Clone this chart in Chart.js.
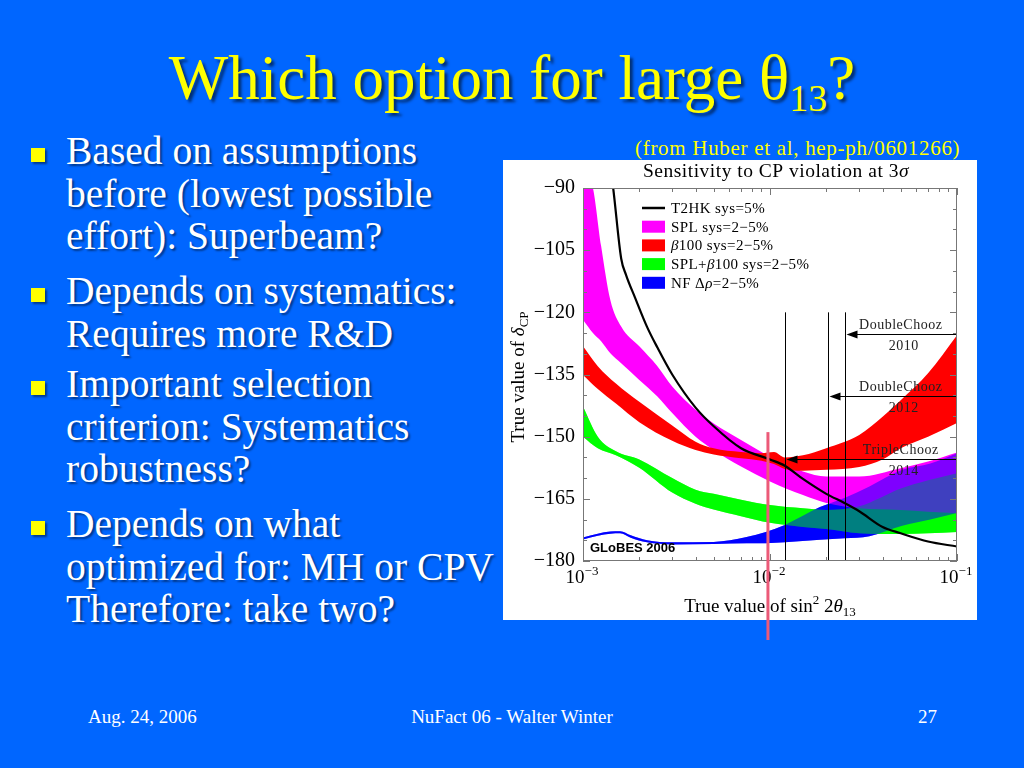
<!DOCTYPE html>
<html lang="en">
<head>
<meta charset="UTF-8" />
<title>Which option for large θ13?</title>
<script src="https://cdn.jsdelivr.net/npm/chart.js"></script>
<style>
  body {
    margin: 0;
    width: 1024px;
    height: 768px;
    overflow: hidden;
    position: relative;
    background: #0066ff;
    font-family: 'Liberation Serif', 'Times New Roman', serif;
  }
  h1 {
    position: absolute;
    left: 0;
    top: 47px;
    width: 1024px;
    margin: 0;
    text-align: center;
    font-weight: normal;
    font-size: 63px;
    line-height: 63px;
    color: #ffff00;
    text-shadow: 3px 3px 3px rgba(0, 0, 0, 0.55);
  }
  h1 .sub { font-size: 38px; vertical-align: -12px; }
  .item {
    position: absolute;
    left: 66px;
    font-size: 39.5px;
    line-height: 42.5px;
    color: #fff;
    white-space: nowrap;
    text-shadow: 2px 2px 2px rgba(0, 0, 0, 0.45);
  }
  .item::before {
    content: '';
    position: absolute;
    left: -35px;
    top: 18px;
    width: 14px;
    height: 14px;
    background: #ffff00;
    box-shadow: 2px 2px 2px rgba(0, 0, 0, 0.45);
  }
  .source {
    position: absolute;
    left: 635px;
    top: 136px;
    font-size: 21px;
    letter-spacing: 0.7px;
    color: #ffff00;
    white-space: nowrap;
  }
  .foot {
    position: absolute;
    top: 706px;
    font-size: 19px;
    color: #fff;
    white-space: nowrap;
  }
  #wrap {
    position: absolute;
    left: 503px;
    top: 160px;
  }
</style>
</head>
<body>
  <h1>Which option for large θ<span class="sub">13</span>?</h1>

  <div class="item" style="top:130px">Based on assumptions<br>before (lowest possible<br>effort): Superbeam?</div>
  <div class="item" style="top:270px">Depends on systematics:<br>Requires more R&amp;D</div>
  <div class="item" style="top:363px">Important selection<br>criterion: Systematics<br>robustness?</div>
  <div class="item" style="top:503px">Depends on what<br>optimized for: MH or CPV<br>Therefore: take two?</div>

  <div class="source">(from Huber et al, hep-ph/0601266)</div>

  <div id="wrap"><canvas id="cpv" width="474" height="485"></canvas></div>

  <div class="foot" style="left:88px">Aug. 24, 2006</div>
  <div class="foot" style="left:0;width:1024px;text-align:center">NuFact 06 - Walter Winter</div>
  <div class="foot" style="left:918px">27</div>

<script>
// values: x = sin^2 2theta13, y = delta_CP in degrees
const t2hkX = [0.0014, 0.00145, 0.0016, 0.0017, 0.0019, 0.0022, 0.0025, 0.003, 0.004, 0.005, 0.007, 0.01, 0.012, 0.015, 0.02, 0.025, 0.03, 0.04, 0.05, 0.07, 0.1];
const t2hkY = [-85, -90, -107, -111, -116.5, -123.5, -128.5, -135, -143, -147.5, -152.8, -155.5, -157, -160.2, -163.8, -166, -168, -171.8, -173.3, -175.3, -176.5];

const splX  = [0.001, 0.00113, 0.00125, 0.0014, 0.0016, 0.002, 0.0025, 0.003, 0.004, 0.005, 0.007, 0.01, 0.015, 0.02, 0.03, 0.05, 0.07, 0.1];
const splHi = [-85, -90, -104, -117, -123.4, -128.2, -133, -137.9, -143.5, -146.8, -150.8, -154.8, -158.4, -159.6, -159.6, -157.6, -156, -153.8];
const splLo = [-121.8, -125, -127, -129.9, -132.3, -136.3, -140.3, -144.3, -150, -153.2, -157.2, -160.8, -164.1, -166, -167.3, -167.7, -168.1, -168.5];

const b100X  = [0.001, 0.0012, 0.0015, 0.002, 0.003, 0.004, 0.005, 0.007, 0.009, 0.0105, 0.012, 0.015, 0.02, 0.03, 0.04, 0.05, 0.07, 0.1];
const b100Hi = [-128.2, -133, -137.2, -141.6, -147.3, -151.2, -152.8, -153.7, -154, -153.7, -155, -154.5, -152.8, -149.6, -145.2, -141.2, -134.7, -125.5];
const b100Lo = [-135.1, -138.5, -142, -146.5, -151, -153.2, -154.3, -155.2, -155.8, -156.6, -157.8, -158.2, -158, -157.3, -155.5, -152.8, -150, -146.7];

const comboX  = [0.001, 0.0012, 0.0015, 0.002, 0.003, 0.004, 0.005, 0.007, 0.01, 0.015, 0.02, 0.03, 0.05, 0.07, 0.1];
const comboHi = [-142.7, -150, -153.5, -155.5, -160, -162.8, -163.8, -165.2, -166.5, -167.3, -167.7, -166.8, -162.5, -160.5, -158.8];
const comboLo = [-150, -152.8, -154.5, -157.5, -163.5, -166.2, -167.6, -169.2, -170.8, -171.8, -172.3, -173.3, -173.5, -173.3, -173];

const nfX  = [0.001, 0.0012, 0.0014, 0.00158, 0.0018, 0.0022, 0.003, 0.005, 0.0075, 0.0095, 0.012, 0.0185, 0.025, 0.034, 0.051, 0.072, 0.1];
const nfHi = [-174.3, -173.4, -172.9, -172.8, -173.8, -175, -175.5, -175.4, -174.2, -173, -171.3, -167, -164.8, -162, -158, -156.5, -154];
const nfLo = [-174.8, -173.9, -173.4, -173.3, -174.4, -175.5, -176, -175.9, -175.7, -175.7, -175.5, -174.9, -174.5, -174, -171.5, -170, -168.4];

// reactor experiments: sin^2 2theta13 reach and arrow height
const reactorX = [0.0253, 0.0204, 0.0121];
const reactorY = [-125.3, -140.3, -155.4];
const reactorName = ['DoubleChooz', 'DoubleChooz', 'TripleChooz'];
const reactorYear = ['2010', '2012', '2014'];

const markX = 0.00975;     // red marker line
const markTop = -148.9;

const xTicks = [0.001, 0.01, 0.1];
const xTickExp = ['−3', '−2', '−1'];
const legendLabels = ['T2HK sys=5%', 'SPL sys=2−5%', 'β100 sys=2−5%', 'SPL+β100 sys=2−5%', 'NF Δρ=2−5%'];
const legendColors = ['#000000', '#ff00ff', '#ff0000', '#00ff00', '#0000ff'];

const SERIF = "'Liberation Serif', 'Times New Roman', serif";

function pts(xs, ys) {
  return xs.map((x, i) => ({ x: x, y: ys[i] }));
}

function band(xs, lo, hi, color) {
  return [
    { data: pts(xs, lo), borderColor: 'rgba(0,0,0,0)', borderWidth: 1, fill: false },
    { data: pts(xs, hi), borderColor: 'rgba(0,0,0,0)', borderWidth: 1, fill: '-1', backgroundColor: color }
  ];
}

function richWidth(ctx, parts) {
  let w = 0;
  for (const p of parts) { ctx.font = p.font; w += ctx.measureText(p.t).width; }
  return w;
}

function drawRich(ctx, parts, x, y, align) {
  const w = richWidth(ctx, parts);
  let cx = align === 'center' ? x - w / 2 : align === 'right' ? x - w : x;
  ctx.textAlign = 'left';
  for (const p of parts) {
    ctx.font = p.font;
    ctx.fillText(p.t, cx, y + (p.dy || 0));
    cx += ctx.measureText(p.t).width;
  }
}

// greek letters in italic, like the Mathematica labels
function greekParts(str, size) {
  const parts = [];
  for (const ch of str) {
    const it = 'βρσθδ'.includes(ch);
    parts.push({ t: ch, font: (it ? 'italic ' : '') + size + 'px ' + SERIF });
  }
  return parts;
}

const decor = {
  id: 'decor',
  beforeDraw(chart) {
    const c = chart.ctx;
    c.save();
    c.fillStyle = '#ffffff';
    c.fillRect(0, 0, chart.width, 460);
    c.restore();
  },
  afterDatasetsDraw(chart) {
    const c = chart.ctx, xs = chart.scales.x, ys = chart.scales.y, a = chart.chartArea;
    c.save();

    // reactor limits
    c.strokeStyle = '#000';
    c.fillStyle = '#000';
    c.lineWidth = 1;
    reactorX.forEach((rx, i) => {
      const px = Math.round(xs.getPixelForValue(rx)) + 0.5;
      c.beginPath();
      c.moveTo(px, ys.getPixelForValue(-120));
      c.lineTo(px, a.bottom);
      c.stroke();
      const py = Math.round(ys.getPixelForValue(reactorY[i])) + 0.5;
      c.beginPath();
      c.moveTo(px + 8, py);
      c.lineTo(a.right, py);
      c.stroke();
      c.beginPath();
      c.moveTo(px + 1, py);
      c.lineTo(px + 12, py - 4);
      c.lineTo(px + 12, py + 4);
      c.closePath();
      c.fill();
      const lx = xs.getPixelForValue(0.05);
      c.fillStyle = '#222';
      c.font = '14px ' + SERIF;
      c.letterSpacing = '0.5px';
      c.textAlign = 'center';
      c.fillText(reactorName[i], lx, py - 6);
      c.fillText(reactorYear[i], lx + 3, py + 15);
      c.letterSpacing = '0px';
      c.fillStyle = '#000';
    });

    // frame and inward ticks
    c.strokeStyle = '#777';
    c.lineWidth = 1;
    c.strokeRect(a.left + 0.5, a.top + 0.5, a.right - a.left - 1, a.bottom - a.top - 1);
    c.beginPath();
    for (let v = -180; v <= -90; v += 5) {
      const py = Math.round(ys.getPixelForValue(v)) + 0.5;
      const len = (v % 15 === 0) ? 7 : 4;
      c.moveTo(a.left, py); c.lineTo(a.left + len, py);
      c.moveTo(a.right, py); c.lineTo(a.right - len, py);
    }
    for (let d = 0.001; d < 0.1; d *= 10) {
      for (let k = 1; k <= 10; k++) {
        const px = Math.round(xs.getPixelForValue(d * k)) + 0.5;
        const len = (k === 1 || k === 10) ? 7 : 4;
        c.moveTo(px, a.bottom); c.lineTo(px, a.bottom - len);
        c.moveTo(px, a.top); c.lineTo(px, a.top + len);
      }
    }
    c.stroke();

    // legend
    c.fillStyle = '#000';
    legendLabels.forEach((lab, i) => {
      const y = a.top + 20 + i * 18.7;
      if (i === 0) {
        c.strokeStyle = legendColors[i];
        c.lineWidth = 2.5;
        c.beginPath(); c.moveTo(139, y); c.lineTo(162, y); c.stroke();
      } else {
        c.fillStyle = legendColors[i];
        c.fillRect(139, y - 6, 23, 12);
      }
      c.fillStyle = '#000';
      c.textBaseline = 'middle';
      c.letterSpacing = '0.4px';
      drawRich(c, greekParts(lab, 15), 168, y + 1, 'left');
      c.letterSpacing = '0px';
      c.textBaseline = 'alphabetic';
    });

    c.fillStyle = '#000';
    c.font = 'bold 13px "Liberation Sans", Arial, sans-serif';
    c.textAlign = 'left';
    c.fillText('GLoBES 2006', a.left + 7, a.bottom - 9);

    c.restore();
  },
  afterDraw(chart) {
    const c = chart.ctx, xs = chart.scales.x, ys = chart.scales.y, a = chart.chartArea;
    c.save();
    c.fillStyle = '#000';

    // title
    c.letterSpacing = '0.5px';
    drawRich(c, [
      { t: 'Sensitivity to CP violation at 3', font: '19.5px ' + SERIF },
      { t: 'σ', font: 'italic 19.5px ' + SERIF }
    ], 273, 17, 'center');
    c.letterSpacing = '0px';

    // x tick labels 10^-n
    xTicks.forEach((v, i) => {
      drawRich(c, [
        { t: '10', font: '19px ' + SERIF },
        { t: xTickExp[i], font: '13px ' + SERIF, dy: -8 }
      ], xs.getPixelForValue(v) - 1, 423, 'center');
    });

    // axis titles
    drawRich(c, [
      { t: 'True value of sin', font: '19px ' + SERIF },
      { t: '2', font: '13px ' + SERIF, dy: -8 },
      { t: ' 2', font: '19px ' + SERIF },
      { t: 'θ', font: 'italic 19px ' + SERIF },
      { t: '13', font: '13px ' + SERIF, dy: 4 }
    ], 267, 452, 'center');

    c.save();
    c.translate(21, 217);
    c.rotate(-Math.PI / 2);
    drawRich(c, [
      { t: 'True value of ', font: '19px ' + SERIF },
      { t: 'δ', font: 'italic 19px ' + SERIF },
      { t: 'CP', font: '13px ' + SERIF, dy: 4 }
    ], 0, 0, 'center');
    c.restore();

    // red marker line, runs past the plot box
    const mx = xs.getPixelForValue(markX);
    c.strokeStyle = '#ec5a78';
    c.lineWidth = 3;
    c.beginPath();
    c.moveTo(mx, ys.getPixelForValue(markTop));
    c.lineTo(mx, 480);
    c.stroke();
    c.restore();
  }
};

const datasets = [
  { data: pts(t2hkX, t2hkY), borderColor: '#000', borderWidth: 2.2, fill: false },
  ...band(nfX, nfLo, nfHi, 'rgba(0,0,255,0.5)'),
  ...band(b100X, b100Lo, b100Hi, '#ff0000'),
  ...band(comboX, comboLo, comboHi, 'rgba(0,255,0,0.5)'),
  ...band(splX, splLo, splHi, '#ff00ff'),
  ...band(comboX, comboLo, comboHi, '#00ff00'),
  ...band(nfX, nfLo, nfHi, '#0000ff')
];

new Chart(document.getElementById('cpv'), {
  type: 'line',
  data: { datasets: datasets },
  options: {
    responsive: false,
    animation: false,
    devicePixelRatio: 1,
    layout: { padding: { top: 28, right: 20, left: 0, bottom: 0 } },
    elements: {
      point: { radius: 0 },
      line: { cubicInterpolationMode: 'monotone' }
    },
    datasets: { line: { clip: 0 } },
    plugins: { legend: { display: false }, tooltip: { enabled: false } },
    scales: {
      x: {
        type: 'logarithmic',
        min: 0.001,
        max: 0.1,
        grid: { display: false, drawTicks: false },
        border: { display: false },
        ticks: { display: false },
        afterFit(s) { s.height = 84; }
      },
      y: {
        type: 'linear',
        min: -180,
        max: -90,
        grid: { display: false, drawTicks: false },
        border: { display: false },
        ticks: {
          stepSize: 15,
          padding: 8,
          color: '#000',
          font: { family: SERIF, size: 20 },
          callback: v => String(v).replace('-', '−')
        },
        afterFit(s) { s.width = 80; }
      }
    }
  },
  plugins: [decor]
});
</script>
</body>
</html>
